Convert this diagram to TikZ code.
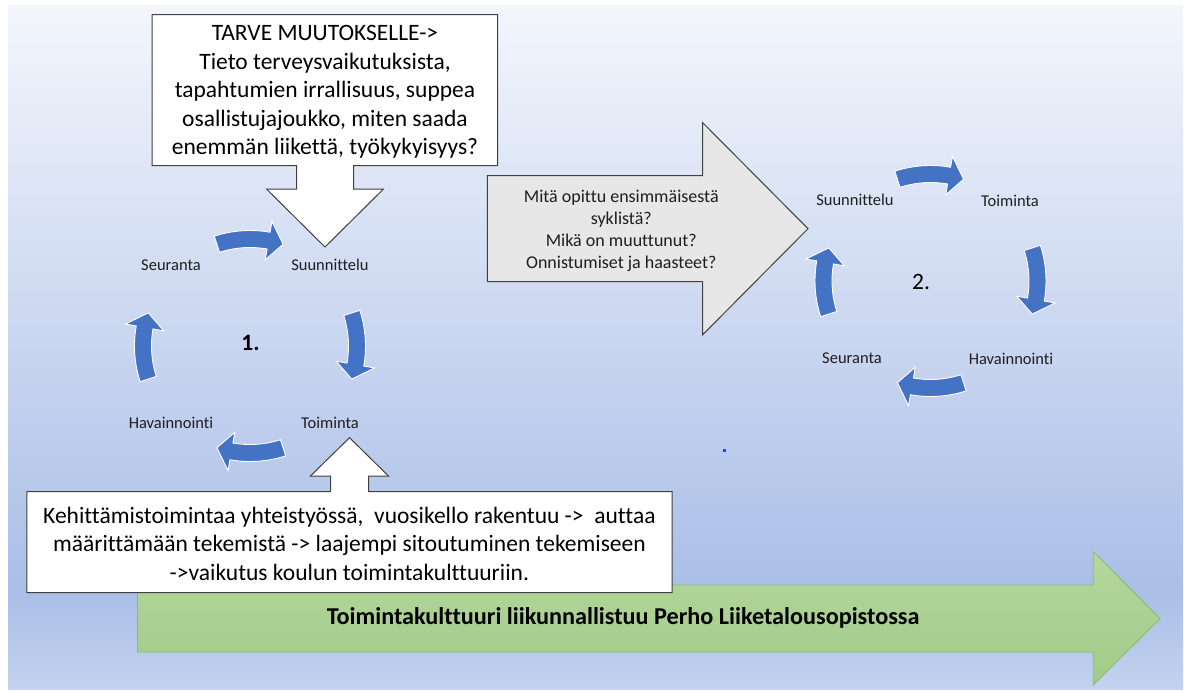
\documentclass[tikz,border=0pt]{standalone}
\usepackage{fontspec}
\setmainfont{Carlito}[Ligatures={TeX,NoCommon}]
\definecolor{bgtop}{HTML}{F3F6FC}
\definecolor{bgmid}{HTML}{AABEE7}
\definecolor{bgbot}{HTML}{C3D2EE}
\definecolor{cycblue}{HTML}{4472C4}
\definecolor{edgegray}{HTML}{404040}
\definecolor{boxgray}{HTML}{E7E7E7}
\definecolor{greentop}{HTML}{B4D79D}
\definecolor{greenbot}{HTML}{A2CB87}
\definecolor{greenedge}{HTML}{88BE69}
\definecolor{inktext}{HTML}{1E1E1E}
\definecolor{dotblue}{HTML}{2040F0}

% one segment of a circular arrow: centre x, centre y, middle angle
\newcommand{\cyclearrow}[3]{%
  \begin{scope}[shift={(#1,#2)}, yscale=-1]
    \filldraw[fill=cycblue, draw=white, line width=0.9pt, line join=miter]
      (#3+18:115.5) arc[start angle=#3+18, end angle=#3-10, radius=115.5]
      -- (#3-10:126.5) -- (#3-18:107) -- (#3-10:87.5) -- (#3-10:98.5)
      arc[start angle=#3-10, end angle=#3+18, radius=98.5] -- cycle;
  \end{scope}}

\begin{document}
\begin{tikzpicture}[x=1pt, y=-1pt,
  bigtext/.style={font=\fontsize{23.5}{28.5}\selectfont, align=center, text=black, inner sep=0pt},
  graytext/.style={font=\fontsize{18}{21.8}\selectfont, align=center, text=inktext, inner sep=0pt},
  steplabel/.style={font=\fontsize{16.5}{20}\selectfont, text=inktext, inner sep=0pt},
  cyclenum/.style={font=\fontsize{23.5}{28}\selectfont, text=black, inner sep=0pt},
  calloutshape/.style={fill=white, draw=edgegray, line width=1pt, line join=miter}]

\useasboundingbox (0,0) rectangle (1186,691);

% background with a vertical gradient
\shade[top color=bgtop, bottom color=bgmid] (8,5) rectangle (1183,591);
\shade[top color=bgmid, bottom color=bgbot] (8,590) rectangle (1183,689);

% long green arrow along the bottom
\shade[top color=greentop, bottom color=greenbot, draw=greenedge, line width=0.8pt]
  (137.5,585) -- (1093.3,585) -- (1093.3,551.7) -- (1160,618.5)
  -- (1093.3,685) -- (1093.3,652) -- (137.5,652) -- cycle;
\node[font=\bfseries\fontsize{24.2}{29}\selectfont, text=black, inner sep=0pt]
  (culture) at (623,618) {Toimintakulttuuri liikunnallistuu Perho Liiketalousopistossa};

% callout pointing down at the first cycle
\path[calloutshape]
  (152,14.5) -- (497.5,14.5) -- (497.5,165.5) -- (353.5,165.5) -- (353.5,189)
  -- (383.5,189) -- (325,247) -- (266.5,189) -- (296.5,189) -- (296.5,165.5)
  -- (152,165.5) -- cycle;
\node[bigtext] (need) at (325,92) {TARVE MUUTOKSELLE->\\Tieto terveysvaikutuksista,\\tapahtumien irrallisuus, suppea\\osallistujajoukko, miten saada\\enemmän liikettä, työkykyisyys?};

% callout pointing up at the first cycle
\path[calloutshape]
  (26.8,491.7) -- (330.5,491.7) -- (330.5,476) -- (310.5,476) -- (349.5,437.7)
  -- (388.5,476) -- (368.5,476) -- (368.5,491.7) -- (672,491.7) -- (672,592.7)
  -- (26.8,592.7) -- cycle;
\node[bigtext] (devel) at (349.4,543.5) {Kehittämistoimintaa yhteistyössä,~ vuosikello rakentuu ->~ auttaa\\määrittämään tekemistä -> laajempi sitoutuminen tekemiseen\\->vaikutus koulun toimintakulttuuriin.};

% grey arrow from the first cycle to the second
\path[fill=boxgray, draw=edgegray, line width=1pt, line join=miter]
  (487.3,175.7) -- (702.7,175.7) -- (702.7,122.7) -- (808,228.7)
  -- (702.7,334.7) -- (702.7,281.7) -- (487.3,281.7) -- cycle;
\node[graytext] (learned) at (621.3,231) {Mitä opittu ensimmäisestä\\syklistä?\\Mikä on muuttunut?\\Onnistumiset ja haasteet?};

% first cycle
\cyclearrow{250}{346}{90}
\cyclearrow{250}{346}{0}
\cyclearrow{250}{346}{-90}
\cyclearrow{250}{346}{180}
\node[steplabel] (a-seur) at (171,265) {Seuranta};
\node[steplabel] (a-suun) at (330,265) {Suunnittelu};
\node[steplabel] (a-toim) at (330,423) {Toiminta};
\node[steplabel] (a-hava) at (171,423) {Havainnointi};
\node[cyclenum, font=\bfseries\fontsize{23.5}{28}\selectfont] (a-num) at (250.5,343) {1.};

% second cycle
\cyclearrow{930.5}{281}{90}
\cyclearrow{930.5}{281}{0}
\cyclearrow{930.5}{281}{-90}
\cyclearrow{930.5}{281}{180}
\node[steplabel] (b-suun) at (855,200) {Suunnittelu};
\node[steplabel] (b-toim) at (1010,200.5) {Toiminta};
\node[steplabel] (b-hava) at (1011,359) {Havainnointi};
\node[steplabel] (b-seur) at (852,358) {Seuranta};
\node[cyclenum] (b-num) at (921,282) {2.};

% small dot
\fill[dotblue] (723,449) rectangle (725.5,451.5);
\end{tikzpicture}
\end{document}
